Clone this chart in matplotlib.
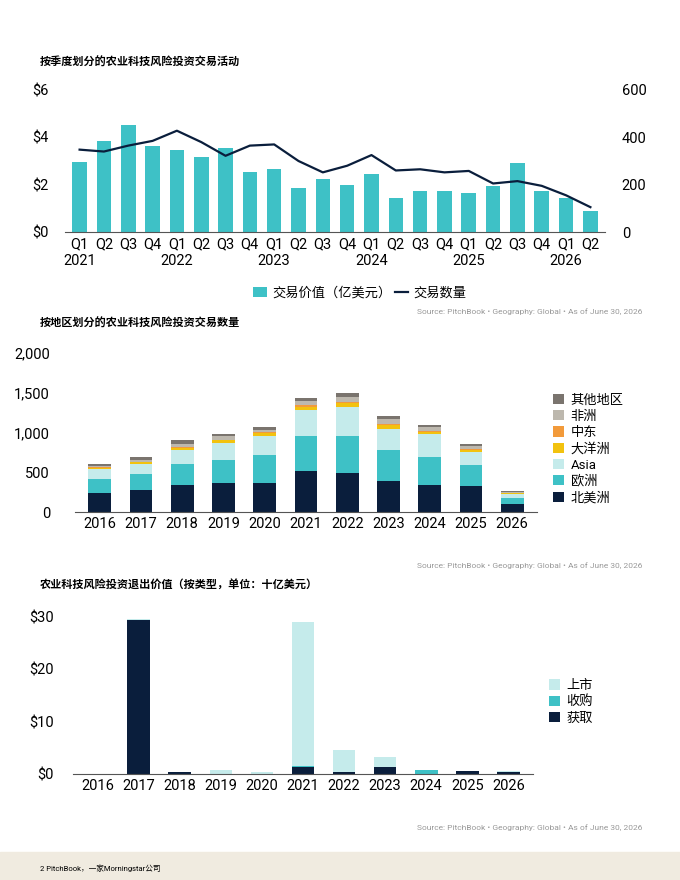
import matplotlib
matplotlib.use("Agg")
import matplotlib.pyplot as plt
import numpy as np

plt.rcParams['font.family'] = ['Roboto', 'Noto Sans CJK SC', 'DejaVu Sans']

# chart 1: quarterly deal activity
quarters = ['Q1\n2021', 'Q2', 'Q3', 'Q4', 'Q1\n2022', 'Q2', 'Q3', 'Q4', 'Q1\n2023', 'Q2', 'Q3', 'Q4',
            'Q1\n2024', 'Q2', 'Q3', 'Q4', 'Q1\n2025', 'Q2', 'Q3', 'Q4', 'Q1\n2026', 'Q2']
deal_value = [2.95, 3.85, 4.5, 3.65, 3.45, 3.15, 3.55, 2.55, 2.65, 1.85, 2.25, 2.0,
              2.45, 1.45, 1.75, 1.75, 1.65, 1.95, 2.9, 1.75, 1.45, 0.9]
deal_count = [348, 340, 365, 385, 428, 380, 322, 365, 370, 300, 252, 280,
              325, 260, 265, 252, 258, 205, 215, 195, 155, 105]

# chart 2: deal count by region
years = ['2016', '2017', '2018', '2019', '2020', '2021', '2022', '2023', '2024', '2025', '2026']
regions = ['北美洲', '欧洲', 'Asia', '大洋洲', '中东', '非洲', '其他地区']
north_america = [240, 280, 345, 370, 370, 510, 485, 385, 345, 330, 95]
europe = [180, 200, 265, 290, 345, 450, 465, 395, 345, 265, 85]
asia = [120, 130, 175, 210, 245, 320, 370, 265, 290, 160, 50]
oceania = [15, 20, 25, 30, 30, 40, 50, 50, 30, 30, 8]
middle_east = [5, 5, 10, 10, 10, 25, 15, 15, 10, 10, 3]
africa = [20, 25, 35, 40, 35, 50, 60, 55, 45, 30, 8]
other = [25, 30, 55, 25, 30, 40, 50, 45, 35, 35, 10]
region_colors = ['#0a1e3c', '#3ec1c6', '#c5ebeb', '#f2c20f', '#f29a3a', '#bdb8ae', '#7a746e']

# chart 3: exit value by type ($B)
exit_types = ['获取', '收购', '上市']
acquisition = [0, 29.5, 0.3, 0, 0, 1.4, 0.4, 1.4, 0, 0.6, 0.4]
buyout = [0, 0, 0, 0, 0, 0.1, 0, 0, 0.7, 0, 0]
ipo = [0, 0.1, 0, 0.8, 0.4, 27.5, 4.2, 1.8, 0, 0, 0.1]
exit_colors = ['#0a1e3c', '#3ec1c6', '#c5ebeb']

fig = plt.figure(figsize=(6.8, 8.8), dpi=100)
W, H = 680, 880

def add_ax(l, t, r, b):
    return fig.add_axes([l / W, 1 - b / H, (r - l) / W, (b - t) / H])

def clean(ax):
    for s in ['top', 'right', 'left']:
        ax.spines[s].set_visible(False)
    ax.spines['bottom'].set_color('#555555')
    ax.tick_params(length=0, labelsize=10.5)

# chart 1
ax1 = add_ax(65, 90, 605, 232)
x = np.arange(len(quarters))
ax1.bar(x, deal_value, width=0.6, color='#3ec1c6', label='交易价值（亿美元）')
ax1.set_ylim(0, 6)
ax1.set_yticks([0, 2, 4, 6])
ax1.set_yticklabels(['$0', '$2', '$4', '$6'])
ax1.set_xlim(-0.6, len(quarters) - 0.4)
ax1.set_xticks(x)
ax1.set_xticklabels(quarters, linespacing=1.3)
clean(ax1)
ax1.tick_params(axis='y', pad=12)
ax1b = ax1.twinx()
ax1b.plot(x, deal_count, color='#0a1e3c', lw=1.6, label='交易数量')
ax1b.set_ylim(0, 600)
ax1b.set_yticks([0, 200, 400, 600])
for s in ax1b.spines.values():
    s.set_visible(False)
ax1b.tick_params(length=0, labelsize=10.5, pad=12)
h1, l1 = ax1.get_legend_handles_labels()
h2, l2 = ax1b.get_legend_handles_labels()
fig.legend(h1 + h2, l1 + l2, loc='center', bbox_to_anchor=(360 / W, 1 - 293 / H), ncol=2,
           frameon=False, fontsize=9.5, handlelength=1.0, columnspacing=0.3, handletextpad=0.4)
fig.text(40 / W, 1 - 62 / H, '按季度划分的农业科技风险投资交易活动', fontsize=8, fontweight='bold', va='center')
fig.text(642 / W, 1 - 312 / H, 'Source: PitchBook • Geography: Global • As of June 30, 2026',
         fontsize=6, color='#999999', ha='right', va='center')

# chart 2
ax2 = add_ax(75, 353, 537, 512)
xs = np.arange(len(years))
series = [north_america, europe, asia, oceania, middle_east, africa, other]
bottom = np.zeros(len(years))
handles = []
for name, vals, c in zip(regions, series, region_colors):
    b = ax2.bar(xs, vals, bottom=bottom, width=0.55, color=c, label=name)
    handles.append(b)
    bottom += np.array(vals)
ax2.set_ylim(0, 2000)
ax2.set_yticks([0, 500, 1000, 1500, 2000])
ax2.set_yticklabels(['0', '500', '1,000', '1,500', '2,000'])
ax2.set_xlim(-0.6, len(years) - 0.4)
ax2.set_xticks(xs)
ax2.set_xticklabels(years)
clean(ax2)
ax2.tick_params(axis='y', pad=18)
ax2.legend(handles[::-1], regions[::-1], loc='upper left', bbox_to_anchor=(1.01, 0.82), frameon=False,
           fontsize=9.5, handlelength=0.8, handleheight=0.8, labelspacing=0.25, handletextpad=0.5)
fig.text(40 / W, 1 - 323 / H, '按地区划分的农业科技风险投资交易数量', fontsize=8, fontweight='bold', va='center')
fig.text(642 / W, 1 - 566 / H, 'Source: PitchBook • Geography: Global • As of June 30, 2026',
         fontsize=6, color='#999999', ha='right', va='center')

# chart 3
ax3 = add_ax(73, 617, 533, 774)
bottom = np.zeros(len(years))
handles = []
for name, vals, c in zip(exit_types, [acquisition, buyout, ipo], exit_colors):
    b = ax3.bar(xs, vals, bottom=bottom, width=0.55, color=c, label=name)
    handles.append(b)
    bottom += np.array(vals)
ax3.set_ylim(0, 30)
ax3.set_yticks([0, 10, 20, 30])
ax3.set_yticklabels(['$0', '$10', '$20', '$30'])
ax3.set_xlim(-0.6, len(years) - 0.4)
ax3.set_xticks(xs)
ax3.set_xticklabels(years)
clean(ax3)
ax3.tick_params(axis='y', pad=14)
ax3.legend(handles[::-1], exit_types[::-1], loc='upper left', bbox_to_anchor=(1.01, 0.68), frameon=False,
           fontsize=9.5, handlelength=0.8, handleheight=0.8, labelspacing=0.25, handletextpad=0.5)
fig.text(40 / W, 1 - 584 / H, '农业科技风险投资退出价值（按类型，单位：十亿美元）', fontsize=8, fontweight='bold', va='center')
fig.text(642 / W, 1 - 828 / H, 'Source: PitchBook • Geography: Global • As of June 30, 2026',
         fontsize=6, color='#999999', ha='right', va='center')

# footer band
fig.patches.append(plt.Rectangle((0, 0), 1, 28 / H, transform=fig.transFigure, color='#f0ebe0', zorder=0))
fig.text(40 / W, 1 - 868 / H, '2 PitchBook，一家Morningstar公司', fontsize=5.5, va='center')

fig.savefig('out.png', dpi=100, facecolor='white')
